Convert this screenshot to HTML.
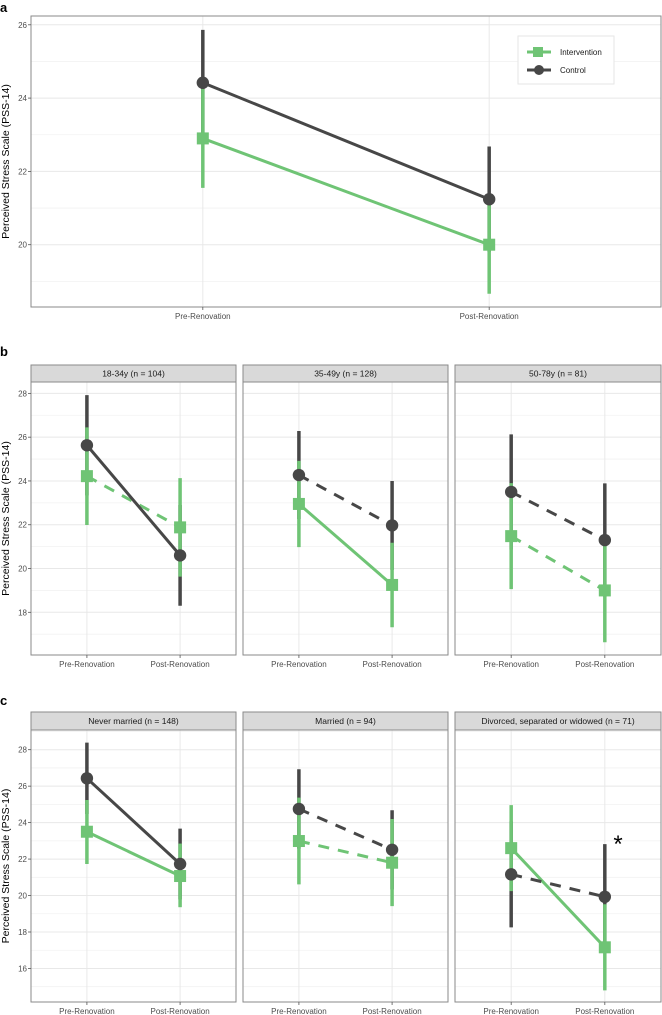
<!DOCTYPE html>
<html><head><meta charset="utf-8"><style>
html,body{margin:0;padding:0;background:#fff;}
svg{display:block;font-family:"Liberation Sans",Arial,sans-serif;}
</style></head><body>
<svg id="chart" width="662" height="1015" viewBox="0 0 662 1015" xmlns="http://www.w3.org/2000/svg"></svg>
<script>
// ---- data ----
const categories = ["Pre-Renovation", "Post-Renovation"];
const groups = ["Intervention", "Control"];
// Panel a
const aIntMean = [22.9, 20.0];
const aIntLo = [21.55, 18.66];
const aIntHi = [24.25, 21.34];
const aCtrlMean = [24.42, 21.24];
const aCtrlLo = [22.98, 19.8];
const aCtrlHi = [25.86, 22.68];
// Panel b (age)
const bStrips = ["18-34y (n = 104)", "35-49y (n = 128)", "50-78y (n = 81)"];
const bIntMean = [[24.22, 21.88], [22.95, 19.25], [21.48, 19.0]];
const bIntLo = [[21.99, 19.63], [20.98, 17.32], [19.06, 16.63]];
const bIntHi = [[26.45, 24.13], [24.92, 21.18], [23.9, 21.37]];
const bCtrlMean = [[25.63, 20.6], [24.27, 21.97], [23.5, 21.3]];
const bCtrlLo = [[23.34, 18.3], [22.26, 19.94], [20.87, 18.71]];
const bCtrlHi = [[27.92, 22.9], [26.28, 24.0], [26.13, 23.89]];
const bIntDashed = [true, false, true];
const bCtrlDashed = [false, true, true];
// Panel c (marital)
const cStrips = ["Never married (n = 148)", "Married (n = 94)", "Divorced, separated or widowed (n = 71)"];
const cIntMean = [[23.5, 21.07], [22.99, 21.8], [22.6, 17.16]];
const cIntLo = [[21.73, 19.36], [20.61, 19.42], [20.24, 14.8]];
const cIntHi = [[25.24, 22.85], [25.37, 24.2], [24.96, 19.52]];
const cCtrlMean = [[26.43, 21.73], [24.75, 22.51], [21.16, 19.93]];
const cCtrlLo = [[24.47, 19.79], [22.57, 20.34], [18.25, 17.04]];
const cCtrlHi = [[28.39, 23.67], [26.93, 24.68], [24.07, 22.82]];
const cIntDashed = [false, true, false];
const cCtrlDashed = [false, true, true];
const aTicks = [20, 22, 24, 26];
const bTicks = [18, 20, 22, 24, 26, 28];
const cTicks = [16, 18, 20, 22, 24, 26, 28];

const NS = "http://www.w3.org/2000/svg";
const svg = document.getElementById("chart");
const GREEN = "#6fc475", DARK = "#474747";
function mk(tag, attrs, parent) {
  const e = document.createElementNS(NS, tag);
  for (const k in attrs) e.setAttribute(k, attrs[k]);
  (parent || svg).appendChild(e);
  return e;
}
function txt(s, attrs, parent) { const t = mk("text", attrs, parent); t.textContent = s; return t; }

function panel(name, x0, x1, y0, y1, dmin, dmax, ticks, showY, iM, iL, iH, cM, cL, cH, iDash, cDash, strip, sy0) {
  const g = mk("g", {});
  
  
  const ys = v => y1 - (v - dmin) / (dmax - dmin) * (y1 - y0);
  const xs = i => x0 + (x1 - x0) * (0.6 + i) / 2.2;
  mk("rect", {x: x0, y: y0, width: x1 - x0, height: y1 - y0, fill: "#fff"}, g);
  // minor grid
  for (let v = Math.ceil(dmin); v <= dmax; v++) {
    if (ticks.indexOf(v) >= 0) continue;
    mk("line", {x1: x0, x2: x1, y1: ys(v), y2: ys(v), stroke: "#f2f2f2", "stroke-width": 0.8}, g);
  }
  ticks.forEach(v => {
    mk("line", {x1: x0, x2: x1, y1: ys(v), y2: ys(v), stroke: "#e8e8e8", "stroke-width": 1}, g);
  });
  categories.forEach((c, i) => {
    mk("line", {x1: xs(i), x2: xs(i), y1: y0, y2: y1, stroke: "#e8e8e8", "stroke-width": 1}, g);
  });
  // error bars
  for (let i = 0; i < 2; i++) {
    const eb = mk("line", {x1: xs(i), x2: xs(i), y1: ys(cL[i]), y2: ys(cH[i]), stroke: DARK, "stroke-width": 3.5}, g);
    
    
  }
  for (let i = 0; i < 2; i++) {
    const eb = mk("line", {x1: xs(i), x2: xs(i), y1: ys(iL[i]), y2: ys(iH[i]), stroke: GREEN, "stroke-width": 3.5}, g);
    
    
  }
  const li = mk("line", {x1: xs(0), y1: ys(iM[0]), x2: xs(1), y2: ys(iM[1]), stroke: GREEN, "stroke-width": 3}, g);
  if (iDash) li.setAttribute("stroke-dasharray", "11 9");
  
  
  const lc = mk("line", {x1: xs(0), y1: ys(cM[0]), x2: xs(1), y2: ys(cM[1]), stroke: DARK, "stroke-width": 3}, g);
  if (cDash) lc.setAttribute("stroke-dasharray", "11 9");
  
  
  for (let i = 0; i < 2; i++) {
    const p = mk("rect", {x: xs(i) - 6, y: ys(iM[i]) - 6, width: 12, height: 12, fill: GREEN}, g);
    
    
  }
  for (let i = 0; i < 2; i++) {
    const p = mk("circle", {cx: xs(i), cy: ys(cM[i]), r: 6.2, fill: DARK}, g);
    
    
  }
  mk("rect", {x: x0, y: y0, width: x1 - x0, height: y1 - y0, fill: "none", stroke: "#8a8a8a", "stroke-width": 1}, g);
  if (strip) {
    const s = mk("rect", {x: x0, y: sy0, width: x1 - x0, height: y0 - sy0, fill: "#d9d9d9", stroke: "#8a8a8a", "stroke-width": 1}, g);
    
    
    const st = txt(strip, {x: (x0 + x1) / 2, y: (sy0 + y0) / 2 + 3, "text-anchor": "middle", "font-size": 8.5, fill: "#1a1a1a"}, g);
    
    
  }
  categories.forEach((c, i) => {
    mk("line", {x1: xs(i), x2: xs(i), y1: y1, y2: y1 + 3, stroke: "#555", "stroke-width": 0.8}, g);
    const t = txt(c, {x: xs(i), y: y1 + 12, "text-anchor": "middle", "font-size": 8, fill: "#4d4d4d"}, g);
    
    
  });
  if (showY) {
    ticks.forEach(v => {
      mk("line", {x1: x0 - 3, x2: x0, y1: ys(v), y2: ys(v), stroke: "#555", "stroke-width": 0.8}, g);
      const t = txt(String(v), {x: x0 - 4, y: ys(v) + 3, "text-anchor": "end", "font-size": 8, fill: "#4d4d4d"}, g);
      
      
    });
    const yt = txt("Perceived Stress Scale (PSS-14)", {x: 0, y: 0, "text-anchor": "middle", "font-size": 10.5, fill: "#000",
      transform: "translate(9," + ((y0 + y1) / 2) + ") rotate(-90)"}, g);
    
    
  }
}

// panel labels
[["a", 12], ["b", 356], ["c", 705]].forEach(p => {
  const t = txt(p[0], {x: 0, y: p[1], "font-size": 13, "font-weight": "bold", fill: "#000"});
  
  
});

panel("panel-a", 31, 661, 16, 307, 18.3, 26.24, aTicks, true, aIntMean, aIntLo, aIntHi, aCtrlMean, aCtrlLo, aCtrlHi, false, false, null, 0);

const facetX = [[31, 236], [243, 448], [455, 661]];
for (let k = 0; k < 3; k++) {
  panel("panel-b-" + (k + 1), facetX[k][0], facetX[k][1], 382, 655, 16.05, 28.52, bTicks, k === 0,
    bIntMean[k], bIntLo[k], bIntHi[k], bCtrlMean[k], bCtrlLo[k], bCtrlHi[k], bIntDashed[k], bCtrlDashed[k], bStrips[k], 365);
}
for (let k = 0; k < 3; k++) {
  panel("panel-c-" + (k + 1), facetX[k][0], facetX[k][1], 730, 1002, 14.16, 29.08, cTicks, k === 0,
    cIntMean[k], cIntLo[k], cIntHi[k], cCtrlMean[k], cCtrlLo[k], cCtrlHi[k], cIntDashed[k], cCtrlDashed[k], cStrips[k], 712);
}

// significance star
const star = txt("*", {x: 618, y: 852, "text-anchor": "middle", "font-size": 24, fill: "#000"});



// legend
const lg = mk("g", {});


mk("rect", {x: 518, y: 36, width: 96, height: 48, fill: "#fff", stroke: "#e6e6e6", "stroke-width": 1}, lg);
const legY = [52, 70];
groups.forEach((gname, i) => {
  const col = i === 0 ? GREEN : DARK;
  const e = mk("g", {}, lg);
  
  
  mk("line", {x1: 527, x2: 551, y1: legY[i], y2: legY[i], stroke: col, "stroke-width": 3}, e);
  if (i === 0) mk("rect", {x: 533, y: legY[i] - 5, width: 10, height: 10, fill: col}, e);
  else mk("circle", {cx: 539, cy: legY[i], r: 5, fill: col}, e);
  txt(gname, {x: 560, y: legY[i] + 3, "font-size": 8, fill: "#1a1a1a"}, e);
});
</script>
</body></html>
